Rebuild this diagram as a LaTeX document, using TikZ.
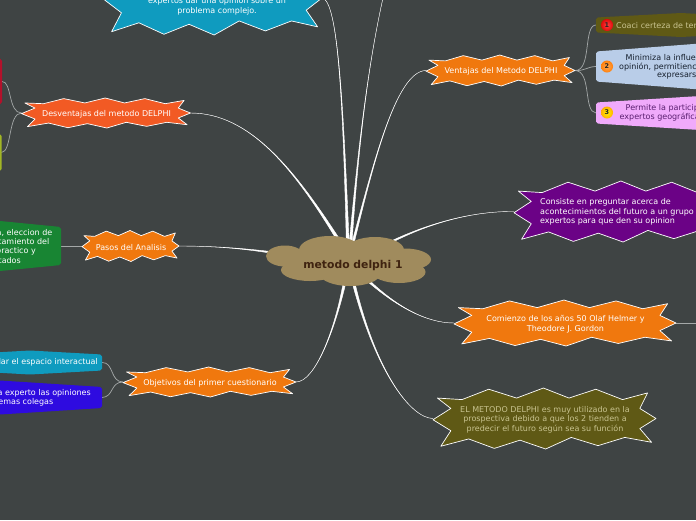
\documentclass[tikz,border=0pt]{standalone}
\usepackage{fontspec}
\setmainfont{DejaVu Sans}
\usetikzlibrary{calc}
\definecolor{pagebg}{HTML}{3F4444}
\definecolor{orangeb}{HTML}{F0780E}
\definecolor{redorange}{HTML}{F25A24}
\definecolor{olive}{HTML}{5F5915}
\definecolor{cyanb}{HTML}{0F9BBF}
\definecolor{purpleb}{HTML}{6B0286}
\definecolor{greenb}{HTML}{188533}
\definecolor{indigob}{HTML}{2E0BE0}
\definecolor{paleblue}{HTML}{B9CDE8}
\definecolor{pinkb}{HTML}{F0AAFB}
\definecolor{crimson}{HTML}{B3112B}
\definecolor{limeb}{HTML}{A2B625}
\definecolor{cloudb}{HTML}{A08B5D}
\definecolor{cloudtext}{HTML}{3F2310}
\definecolor{olivetext}{HTML}{C8C38F}
\definecolor{pinktext}{HTML}{5A1F70}
\definecolor{bluetext}{HTML}{16202E}
\definecolor{thinline}{HTML}{A4A8A8}
\pgfdeclarelayer{conn}
\pgfsetlayers{conn,main}
\pgfdeclareradialshading{badgered}{\pgfpoint{0bp}{0bp}}{color(0bp)=(red!75!white); color(30bp)=(red!85!black); color(40bp)=(red!80!white); color(50bp)=(red!30!white)}
\pgfdeclareradialshading{badgeorange}{\pgfpoint{0bp}{0bp}}{color(0bp)=(orange!70!white); color(30bp)=(orange!95!red); color(40bp)=(orange!75!white); color(50bp)=(orange!25!white)}
\pgfdeclareradialshading{badgeyellow}{\pgfpoint{0bp}{0bp}}{color(0bp)=(yellow!90!orange); color(30bp)=(orange!70!yellow); color(40bp)=(orange!75!white); color(50bp)=(yellow!30!white)}
\tikzset{
  x=1pt,y=-1pt,
  txt/.style={font=\fontsize{8}{9.5}\selectfont,inner sep=0pt,align=center},
  txtl/.style={font=\fontsize{8}{9.5}\selectfont,inner sep=0pt,align=left},
  anchorbox/.style={inner sep=0pt,outer sep=0pt},
  burstline/.style={draw=white,line width=.7pt,line join=round},
  taperline/.style={fill=white,draw=white,line width=.4pt,line join=round},
  subline/.style={draw=thinline,line width=.7pt},
  lobe/.style={fill=cloudb},
  badge/.style={circle,inner sep=0pt,minimum size=12pt,font=\fontsize{6.5}{7}\bfseries\selectfont,text=black!85}
}
% name, cx, cy, half width, half height, fill, text colour, text
\newcommand{\burst}[8]{%
  \begin{scope}[shift={(#2,#3)},x=#4pt,y=-#5pt]
    \path[burstline,fill=#6] (-.96,-.67) -- (-.74,-.62) -- (-.50,-.96) -- (-.25,-.67) -- (-.01,-1) -- (.22,-.67) -- (.46,-.96) -- (.70,-.62) -- (.925,-.84) -- (.855,-.33) -- (1,0) -- (.855,.33) -- (.96,.78) -- (.72,.62) -- (.48,.89) -- (.24,.62) -- (.01,1) -- (-.22,.71) -- (-.45,.98) -- (-.68,.67) -- (-.93,.91) -- (-.84,.4) -- (-1,.04) -- (-.84,-.33) -- cycle;
  \end{scope}
  \node[anchorbox,minimum width=2*#4pt,minimum height=2*#5pt] (#1) at (#2,#3) {};
  \node[txt,text=#7] (#1text) at (#2+.5,#3+1.2) {#8};
}
% name, cx, cy, half width, half height centre, half height edge, fill
\newcommand{\sidebox}[7]{%
  \path[fill=#7,rounded corners=2pt] (#2-#4,#3-#6) -- (#2,#3-#5) -- (#2+#4,#3-#6) -- (#2+#4,#3+#6) -- (#2,#3+#5) -- (#2-#4,#3+#6) -- cycle;
  \node[anchorbox,minimum width=2*#4pt,minimum height=2*#6pt] (#1) at (#2,#3) {};
}
% base dx, dy, half thickness x, y, c1, c2, target
\newcommand{\taper}[7]{%
  \begin{pgfonlayer}{conn}
    \path[taperline] ($(root)+(#1-#3,#2-#4)$) .. controls #5 and #6 .. #7 .. controls #6 and #5 .. ($(root)+(#1+#3,#2+#4)$) -- cycle;
  \end{pgfonlayer}
}
\newcommand{\twig}[1]{\begin{pgfonlayer}{conn}\draw[subline] #1;\end{pgfonlayer}}
\begin{document}
\begin{tikzpicture}
\useasboundingbox (0,0) rectangle (696,520);
\begin{pgfonlayer}{conn}
  \fill[pagebg] (0,0) rectangle (696,520);
\end{pgfonlayer}

% central cloud
\fill[lobe] (285,256) ellipse [x radius=19,y radius=10.5];
\fill[lobe] (330,250) ellipse [x radius=31,y radius=14];
\fill[lobe] (375,250) ellipse [x radius=29,y radius=13];
\fill[lobe] (405,259.5) ellipse [x radius=26,y radius=11];
\fill[lobe] (399,272) ellipse [x radius=26.5,y radius=11];
\fill[lobe] (350,274) ellipse [x radius=30,y radius=12];
\fill[lobe] (310,270) ellipse [x radius=29,y radius=11];
\fill[lobe] (350,260) ellipse [x radius=60,y radius=15];
\node[anchorbox,font=\fontsize{10.8}{12}\bfseries\selectfont,text=cloudtext] (root) at (353,265.5) {metodo delphi 1};

% bursts
\burst{desv}{106}{113}{84.5}{15}{redorange}{white}{Desventajas del metodo DELPHI}
\burst{vent}{500.5}{70.5}{74.5}{15.5}{orangeb}{white}{Ventajas del Metodo DELPHI}
\burst{pasos}{130.5}{246}{48.5}{15.5}{orangeb}{white}{Pasos del Analisis}
\burst{obj}{209.5}{382}{86.5}{15}{orangeb}{white}{Objetivos del primer cuestionario}
\burst{cons}{622}{211.5}{108}{30.5}{purpleb}{white}{}
\node[txtl,text=white,anchor=west] (constext) at (540,212) {Consiste en preguntar acerca de\\acontecimientos del futuro a un grupo\\expertos para que den su opinion};
\burst{com}{565}{323}{111}{23}{orangeb}{white}{Comienzo de los años 50 Olaf Helmer y\\Theodore J. Gordon}
\burst{elm}{544.5}{418.5}{111.5}{30.5}{olive}{olivetext}{EL METODO DELPHI es muy utilizado en la\\prospectiva debido a que los 2 tienden a\\predecir el futuro según sea su función}
\burst{star}{213}{-2}{109}{37}{cyanb}{white}{}
\node[txt,text=white] (startext) at (217,6.5) {expertos dar una opinion sobre un\\problema complejo.};

% side boxes
\sidebox{olv}{681}{25}{85}{12}{7.5}{olive}
\sidebox{pblue}{700}{66.5}{104}{23}{15}{paleblue}
\sidebox{pink}{700}{113}{104}{17}{10.5}{pinkb}
\sidebox{green}{-10}{246}{71}{26}{19}{greenb}
\sidebox{cyan}{30}{362.5}{72}{12}{8}{cyanb}
\sidebox{indigo}{0}{397.5}{102}{17}{10.5}{indigob}
\sidebox{red}{-40}{81.5}{42}{30}{22.5}{crimson}
\sidebox{lime}{-40}{152.5}{41.5}{25}{18.5}{limeb}

% badges
\node[badge,shading=badgered] (b1) at (607,25) {1};
\node[badge,shading=badgeorange] (b2) at (607,66.5) {2};
\node[badge,shading=badgeyellow] (b3) at (607,112.5) {3};

% texts of the side boxes
\node[txtl,text=olivetext,anchor=west] (t1) at (616,25.5) {Coaci certeza de ter};
\node[txtl,text=bluetext,anchor=west] (t2a) at (625.5,57.5) {Minimiza la influen};
\node[txtl,text=bluetext,anchor=west] (t2b) at (619,67) {opinión, permitienc};
\node[txtl,text=bluetext,anchor=west] (t2c) at (657,76.5) {expresars};
\node[txtl,text=pinktext,anchor=west] (t3a) at (625.5,108.5) {Permite la particip};
\node[txtl,text=pinktext,anchor=west] (t3b) at (619.5,117.5) {expertos geográfica};
\node[txtl,text=white,anchor=east] (g1) at (52.5,232.5) {a, eleccion de};
\node[txtl,text=white,anchor=east] (g2) at (49.5,241.5) {tamiento del};
\node[txtl,text=white,anchor=east] (g3) at (36,251.5) {practico y};
\node[txtl,text=white,anchor=east] (g4) at (21,260.5) {tados};
\node[txtl,text=white,anchor=east] (c1) at (98,362.5) {lar el espacio interactual};
\node[txtl,text=white,anchor=east] (i1) at (91,393.5) {a experto las opiniones};
\node[txtl,text=white,anchor=east] (i2) at (53.5,402.5) {emas colegas};

% free ends of connectors that leave the page
\coordinate (offtop) at (386,-15);
\coordinate (offright) at (704,323);

% main connectors
\taper{-5}{-15}{1.5}{0}{(343,100)}{(338,0)}{(star.east)}
\taper{-3}{-15}{1.5}{0}{(358,150)}{(368,60)}{(offtop)}
\taper{-2}{-15}{1.3}{0}{(372,170)}{(395,71)}{(vent.west)}
\taper{-13}{-23}{1.3}{-.8}{(295,170)}{(250,113)}{(desv.east)}
\taper{-68}{-11}{0}{1.2}{(245,248)}{(210,246)}{(pasos.east)}
\taper{-8}{15}{1.4}{0}{(335,330)}{(315,382)}{(obj.east)}
\taper{0}{15}{1.4}{0}{(375,370)}{(410,418)}{(elm.west)}
\taper{15}{15}{.8}{-.8}{(395,305)}{(425,323)}{(com.west)}
\taper{22}{-15}{.4}{1.2}{(420,225)}{(470,211)}{(cons.west)}

% thin branches
\twig{(com.east) -- (offright)}
\twig{(vent.east) .. controls (592,71) and (583,25) .. (olv.west)}
\twig{(vent.east) .. controls (585,71) and (588,66.5) .. (pblue.west)}
\twig{(vent.east) .. controls (592,71) and (583,112) .. (pink.west)}
\twig{(desv.west) .. controls (8,113) and (12,81) .. (red.east)}
\twig{(desv.west) .. controls (8,113) and (12,152) .. (lime.east)}
\begin{pgfonlayer}{conn}\draw[subline,line width=1pt] (pasos.west) -- (green.east);\end{pgfonlayer}
\twig{(obj.west) .. controls (110,382) and (114,362) .. (cyan.east)}
\twig{(obj.west) .. controls (110,382) and (114,397) .. (indigo.east)}
\end{tikzpicture}
\end{document}
